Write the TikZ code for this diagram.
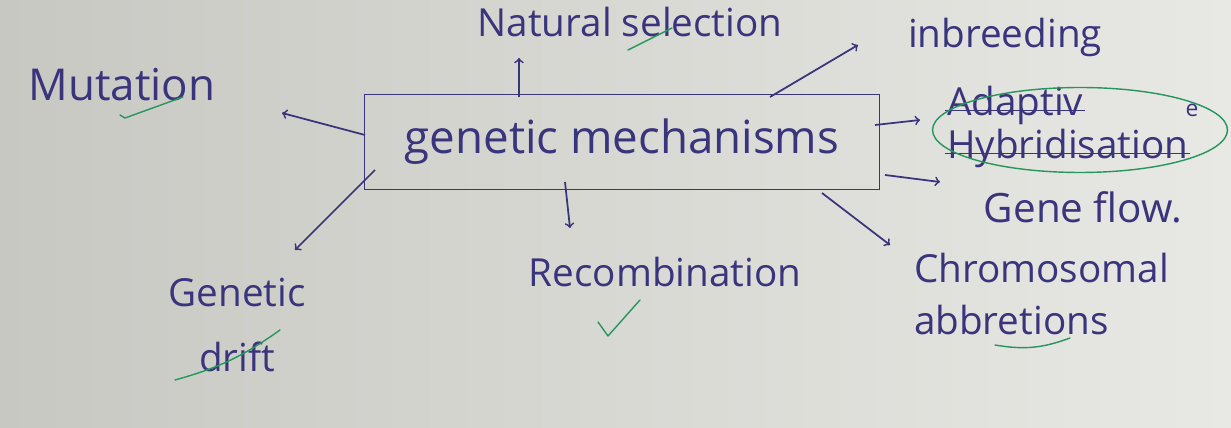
\documentclass[tikz,border=0pt]{standalone}
\usepackage{fontspec}
\setmainfont{Open Sans}
\usetikzlibrary{positioning,calc,fit,shapes.geometric}
\definecolor{ink}{RGB}{58,52,125}
\definecolor{inkgreen}{RGB}{38,150,92}
\definecolor{paperdark}{RGB}{200,200,195}
\definecolor{paperlight}{RGB}{232,232,228}

\begin{document}
\begin{tikzpicture}[x=0.02cm, y=-0.02cm,
                    mechbox/.style={draw=ink, line width=1pt, minimum width=10.3cm, minimum height=1.9cm, text=ink, font=\fontsize{26}{30}\selectfont},
                    inklabel/.style={text=ink, font=\fontsize{22}{27}\selectfont, inner sep=1pt, align=center},
                    inkarrow/.style={->, draw=ink, line width=1pt},
                    tickmark/.style={draw=inkgreen, thick, line cap=round, line join=round},]
    % paper
    \shade[left color=paperdark, right color=paperlight] (0,0) rectangle (1231,428);
    \useasboundingbox (0,0) rectangle (1231,428);
    % nodes
    \node[mechbox]   (mech)   at (622,142)    {genetic mechanisms};
    \node[inklabel]  (nat)    at (630,22)     {Natural selection};
    \node[inklabel, font=\fontsize{25}{30}\selectfont]  (mut)    at (122,85)     {Mutation};
    \node[inklabel]  (inb)    at (1005,37)    {inbreeding};
    \node[inklabel, anchor=west]  (adap1)  at (945,105)  {Adaptiv};
    \node[inklabel, anchor=west]  (adap2)  at (945,148)  {Hybridisation};
    \node[inklabel, font=\fontsize{13}{15}\selectfont] (adapE) at (1192,110) {e};
    \node[inklabel, font=\fontsize{23}{27}\selectfont]  (gene)   at (1083,207)   {Gene flow.};
    \node[inklabel, font=\fontsize{22}{30}\selectfont, align=left, anchor=west] (chrom) at (912,294) {Chromosomal\\abbretions};
    \node[inklabel]  (recomb) at (665,272)    {Recombination};
    \node[inklabel, font=\fontsize{22}{37}\selectfont] (drift) at (237,325) {Genetic\\drift};
    % crossed out and circled
    \draw[ink, thick] (adap1.mid west) -- (adap1.mid east);
    \draw[ink, thick] (adap2.mid west) -- (adap2.mid east);
    \node[ellipse, draw=inkgreen, thick, minimum width=5.9cm, minimum height=1.7cm] (circ) at (1080,130) {};
    % lines
    \draw[inkarrow] ($(mech)+(-103,-45)$) -- ($(nat)+(-111,36)$);
    \draw[inkarrow] ($(mech)+(-257,-7)$)  -- ($(mut)+(160,28)$);
    \draw[inkarrow] ($(mech)+(148,-45)$)  -- ($(inb)+(-147,8)$);
    \draw[inkarrow] ($(mech)+(253,-17)$)  -- ($(adap1.west)+(-25,15)$);
    \draw[inkarrow] ($(mech)+(263,33)$)   -- ($(gene)+(-143,-25)$);
    \draw[inkarrow] ($(mech)+(200,51)$)   -- ($(chrom.west)+(-22,-49)$);
    \draw[inkarrow] ($(mech)+(-57,40)$)   -- ($(recomb)+(-95,-44)$);
    \draw[inkarrow] ($(mech)+(-247,28)$)  -- ($(drift)+(58,-75)$);
    % green ticks
    \draw[tickmark] ($(mut)+(-2,30)$) -- ($(mut)+(3,33)$) -- ($(mut)+(61,12)$);
    \draw[tickmark] ($(nat)+(-2,28)$) -- ($(nat)+(42,6)$);
    \draw[tickmark] ($(recomb)+(-67,50)$) -- ($(recomb)+(-57,64)$) -- ($(recomb)+(-25,28)$);
    \draw[tickmark] ($(chrom.west)+(83,51)$) to[bend right=15] ($(chrom.west)+(158,44)$);
    \draw[tickmark] ($(drift)+(-62,55)$) to[bend right=10] ($(drift)+(43,5)$);
\end{tikzpicture}
\end{document}
